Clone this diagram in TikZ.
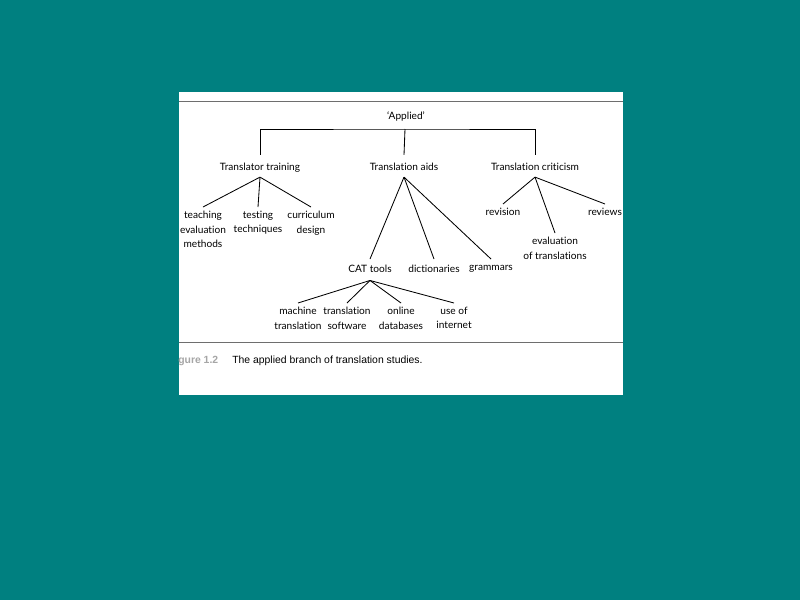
\documentclass[tikz,border=0pt]{standalone}
\usepackage{fontspec}
\setmainfont{Lato}[Ligatures={NoCommon}]
\newfontfamily\capfont{Liberation Sans}
\usepackage{xcolor}
\usetikzlibrary{positioning}
\definecolor{bgteal}{RGB}{0,128,128}
\definecolor{rulegray}{RGB}{110,110,110}
\tikzset{
  lbl/.style={font=\fontsize{7.2}{10}\selectfont, align=center, inner sep=1.5pt},
  hub/.style={lbl, text height=7pt, text depth=0pt, inner ysep=4.2pt},
  leaf/.style={lbl, anchor=north, inner ysep=3pt},
  branch/.style={line width=0.6pt}
}

\begin{document}
\begin{tikzpicture}[x=0.025cm, y=-0.025cm]
    % Page and frame
    \fill[bgteal] (0,0) rectangle (800,600);
    \fill[white] (179,92) rectangle (623,395);
    \draw[rulegray, line width=0.7pt] (179,101) -- (623,101);
    \draw[rulegray, line width=0.7pt] (179,342) -- (623,342);

    % Root
    \node[lbl] (applied) at (406,116) {`Applied'};
    \coordinate (bar) at (405,129);

    % Three main branches
    \node[hub] (train) at (260,166) {Translator training};
    \node[hub] (aids) at (404,166) {Translation aids};
    \node[hub] (crit) at (535,166) {Translation criticism};

    % Bracket under the root
    \draw[branch] (train.north) |- (bar) -| (crit.north);
    \draw[branch] (bar) -- (aids.north);

    % Translator training
    \node[leaf] (teach) at (203,207) {teaching\\evaluation\\methods};
    \node[leaf] (test) at (258,207) {testing\\techniques};
    \node[leaf] (curr) at (311,207) {curriculum\\design};
    \draw[branch] (train.south) -- (teach.north);
    \draw[branch] (train.south) -- (test.north);
    \draw[branch] (train.south) -- (curr.north);

    % Translation aids
    \node[leaf, inner ysep=4pt] (cat) at (370,259) {CAT tools};
    \node[leaf, inner ysep=4pt] (dict) at (434,259) {dictionaries};
    \node[leaf, inner ysep=4pt] (gram) at (491,259) {grammars};
    \draw[branch] (aids.south) -- (cat.north);
    \draw[branch] (aids.south) -- (dict.north);
    \draw[branch] (aids.south) -- (gram.north);

    % Translation criticism
    \node[leaf] (rev) at (503,204) {revision};
    \node[leaf] (evtr) at (555,233) {evaluation\\of translations};
    \node[leaf] (revw) at (605,204) {reviews};
    \draw[branch] (crit.south) -- (rev.north);
    \draw[branch] (crit.south) -- (evtr.north);
    \draw[branch] (crit.south) -- (revw.north);

    % CAT tools
    \coordinate (catfoot) at ([yshift=-1.5pt]cat.south);
    \node[leaf] (mach) at (298,303) {machine\\translation};
    \node[leaf] (soft) at (347,303) {translation\\software};
    \node[leaf] (onl) at (401,303) {online\\databases};
    \node[leaf] (web) at (454,303) {use of\\internet};
    \draw[branch] (catfoot) -- (mach.north);
    \draw[branch] (catfoot) -- (soft.north);
    \draw[branch] (catfoot) -- (onl.north);
    \draw[branch] (catfoot) -- (web.north);

    % Caption
    \node[anchor=base west, inner sep=0pt, font=\capfont\bfseries\fontsize{7.4}{9}\selectfont, text=gray!70]
        (fignum) at (178,363) {gure 1.2};
    \node[anchor=base west, inner sep=0pt, font=\capfont\fontsize{7.4}{9}\selectfont]
        (captxt) at (232,363) {The applied branch of translation studies.};
\end{tikzpicture}
\end{document}
